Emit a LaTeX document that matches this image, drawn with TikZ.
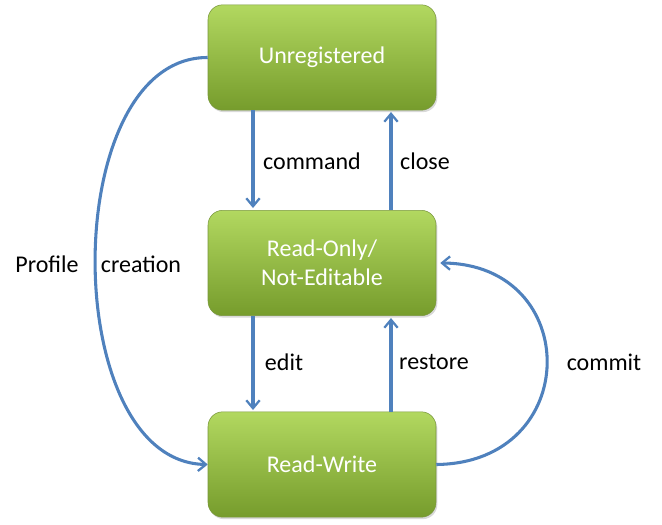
\documentclass[tikz,border=0pt]{standalone}
\usepackage{fontspec}
\setmainfont{Carlito}
\usetikzlibrary{arrows.meta,positioning,shadows}
\definecolor{statetop}{RGB}{178,216,96}
\definecolor{statebot}{RGB}{118,156,44}
\definecolor{stateedge}{RGB}{120,150,60}
\definecolor{linkblue}{RGB}{79,129,189}

\begin{document}
\begin{tikzpicture}[x=0.75pt,y=-0.75pt,
    state/.style={rounded corners=11pt,minimum width=171pt,minimum height=79pt,align=center,
      top color=statetop,bottom color=statebot,draw=stateedge,
      text=white,font=\fontsize{18}{22}\selectfont,drop shadow={opacity=0.3,shadow xshift=1pt,shadow yshift=-1.5pt}},
    link/.style={draw=linkblue,line width=2.3pt,-{Straight Barb[length=6pt,width=10pt,line width=1.7pt]}},
    lbl/.style={font=\fontsize{18}{22}\selectfont,text=black}]
    \useasboundingbox (0,0) rectangle (662,525);
    %% states
    \node[state] (unreg) at (322,57.5) {Unregistered};
    \node[state] (ro) at (322,263) {Read-Only/\\Not-Editable};
    \node[state] (rw) at (322,464.5) {Read-Write};
    %% vertical links
    \coordinate (cmdA) at (253,110);  \coordinate (cmdB) at (253,208);
    \coordinate (clsA) at (391,210);  \coordinate (clsB) at (391,112);
    \coordinate (edtA) at (253,316);  \coordinate (edtB) at (253,410);
    \coordinate (rstA) at (391,412);  \coordinate (rstB) at (391,318);
    \draw[link] (cmdA) -- (cmdB);
    \draw[link] (clsA) -- (clsB);
    \draw[link] (edtA) -- (edtB);
    \draw[link] (rstA) -- (rstB);
    %% curved links
    \draw[link] (unreg.west) .. controls (58,57) and (58,462) .. (rw.west);
    \draw[link] (rw.east) .. controls (583,463) and (583,264) .. ([xshift=3pt]ro.east);
    %% labels
    \node[lbl] (lcmd) at (312,161) {command};
    \node[lbl] (lcls) at (425,161) {close};
    \node[lbl] (ledt) at (284,362) {edit};
    \node[lbl] (lrst) at (434,362) {restore};
    \node[lbl] (lcom) at (604,362) {commit};
    \node[lbl] (lpro) at (47,264) {Profile};
    \node[lbl] (lcre) at (141,264) {creation};
\end{tikzpicture}
\end{document}
